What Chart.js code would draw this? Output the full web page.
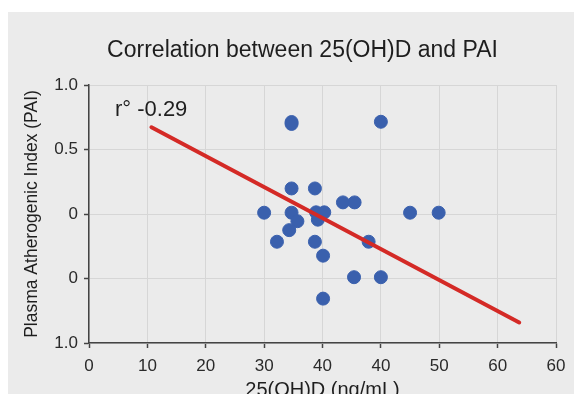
<!DOCTYPE html>
<html>
<head>
<meta charset="utf-8">
<script src="https://cdn.jsdelivr.net/npm/chart.js@4"></script>
<style>
html,body{margin:0;padding:0;background:#ffffff;overflow:hidden;width:574px;height:394px;}
#panel{position:absolute;left:8px;top:12px;width:566px;height:390px;background:#ebebeb;}
canvas{display:block;}
</style>
</head>
<body>
<div id="panel"><canvas id="c" width="566" height="390"></canvas></div>
<script>
// Data (x in axis units, tick labels as printed on the reference)
const xTickLabels = ["0","10","20","30","40","40","50","60","60"];
const yTickLabels = ["1.0","0","0","0.5","1.0"]; // bottom to top
const xValues = [34.7, 34.7, 50.0, 34.7, 38.7, 43.5, 45.5, 30.0, 34.7, 38.9, 40.3, 39.2, 35.7, 34.3, 32.2, 38.7, 47.9, 40.1, 55.0, 59.9, 45.4, 50.0, 40.1];
const yValues = [0.713, 0.698, 0.715, 0.198, 0.198, 0.09, 0.09, 0.01, 0.01, 0.013, 0.013, -0.044, -0.056, -0.125, -0.215, -0.215, -0.215, -0.323, 0.01, 0.01, -0.49, -0.49, -0.656];
const fitX = [10.7, 73.7];
const fitY = [0.672, -0.841];
const rText = "r\u00b0 -0.29";

const points = xValues.map((x, i) => ({x: x, y: yValues[i]}));
const fitLine = fitX.map((x, i) => ({x: x, y: fitY[i]}));

Chart.defaults.font.family = "'Liberation Sans', Arial, sans-serif";
Chart.defaults.color = '#2a2a2a';

const annot = {
  id: 'annot',
  afterLayout(chart) {
    const tb = chart.titleBlock;
    if (tb) { const w = tb.right - tb.left; tb.left = 294.5 - w / 2; tb.right = 294.5 + w / 2; }
  },
  afterDatasetsDraw(chart) {
    const {ctx, scales} = chart;
    ctx.save();
    ctx.font = "22px 'Liberation Sans', Arial, sans-serif";
    ctx.fillStyle = '#1e1e1e';
    ctx.textAlign = 'left';
    ctx.textBaseline = 'middle';
    ctx.fillText(rText, scales.x.getPixelForValue(4.45), scales.y.getPixelForValue(0.805));
    ctx.restore();
  }
};

new Chart(document.getElementById('c'), {
  type: 'scatter',
  data: {
    datasets: [
      {
        type: 'line',
        data: fitLine,
        borderColor: '#d42a26',
        borderWidth: 4,
        pointRadius: 0,
        fill: false,
        borderCapStyle: 'round',
        order: 1
      },
      {
        data: points,
        backgroundColor: '#3a60ad',
        borderColor: '#3a60ad',
        pointRadius: 6.5,
        pointHoverRadius: 6.5,
        order: 2
      }
    ]
  },
  options: {
    responsive: false,
    animation: false,
    events: [],
    layout: {padding: {left: 0, right: 18, top: 0, bottom: 0}},
    plugins: {
      legend: {display: false},
      tooltip: {enabled: false},
      title: {
        display: true,
        text: 'Correlation between 25(OH)D and PAI',
        font: {size: 23, weight: 'normal'},
        color: '#1e1e1e',
        padding: {top: 24.7, bottom: 20.7}
      }
    },
    scales: {
      x: {
        type: 'linear',
        min: 0, max: 80,
        afterFit(s) { s.height = 59; },
        ticks: {
          stepSize: 10,
          padding: 8,
          font: {size: 17},
          color: '#2a2a2a',
          maxRotation: 0,
          callback: (v, i) => xTickLabels[i]
        },
        grid: {color: '#d6d6d6', lineWidth: 1, tickLength: 5, tickColor: '#444', tickWidth: 1.5},
        border: {display: true, color: '#444', width: 1.5},
        title: {display: true, text: '25(OH)D (ng/mL)', font: {size: 20}, color: '#1e1e1e', padding: {top: 2, bottom: 0}}
      },
      y: {
        type: 'linear',
        min: -1, max: 1,
        afterFit(s) { s.width = 81; },
        ticks: {
          stepSize: 0.5,
          padding: 6,
          font: {size: 17},
          color: '#2a2a2a',
          callback: (v, i) => yTickLabels[i]
        },
        grid: {color: '#d6d6d6', lineWidth: 1, tickLength: 5, tickColor: '#444', tickWidth: 1.5},
        border: {display: true, color: '#444', width: 1.5},
        title: {display: true, text: 'Plasma Atherogenic Index (PAI)', font: {size: 17.5}, color: '#1e1e1e', padding: {top: 13.5, bottom: 0}}
      }
    }
  },
  plugins: [annot]
});
</script>
</body>
</html>
